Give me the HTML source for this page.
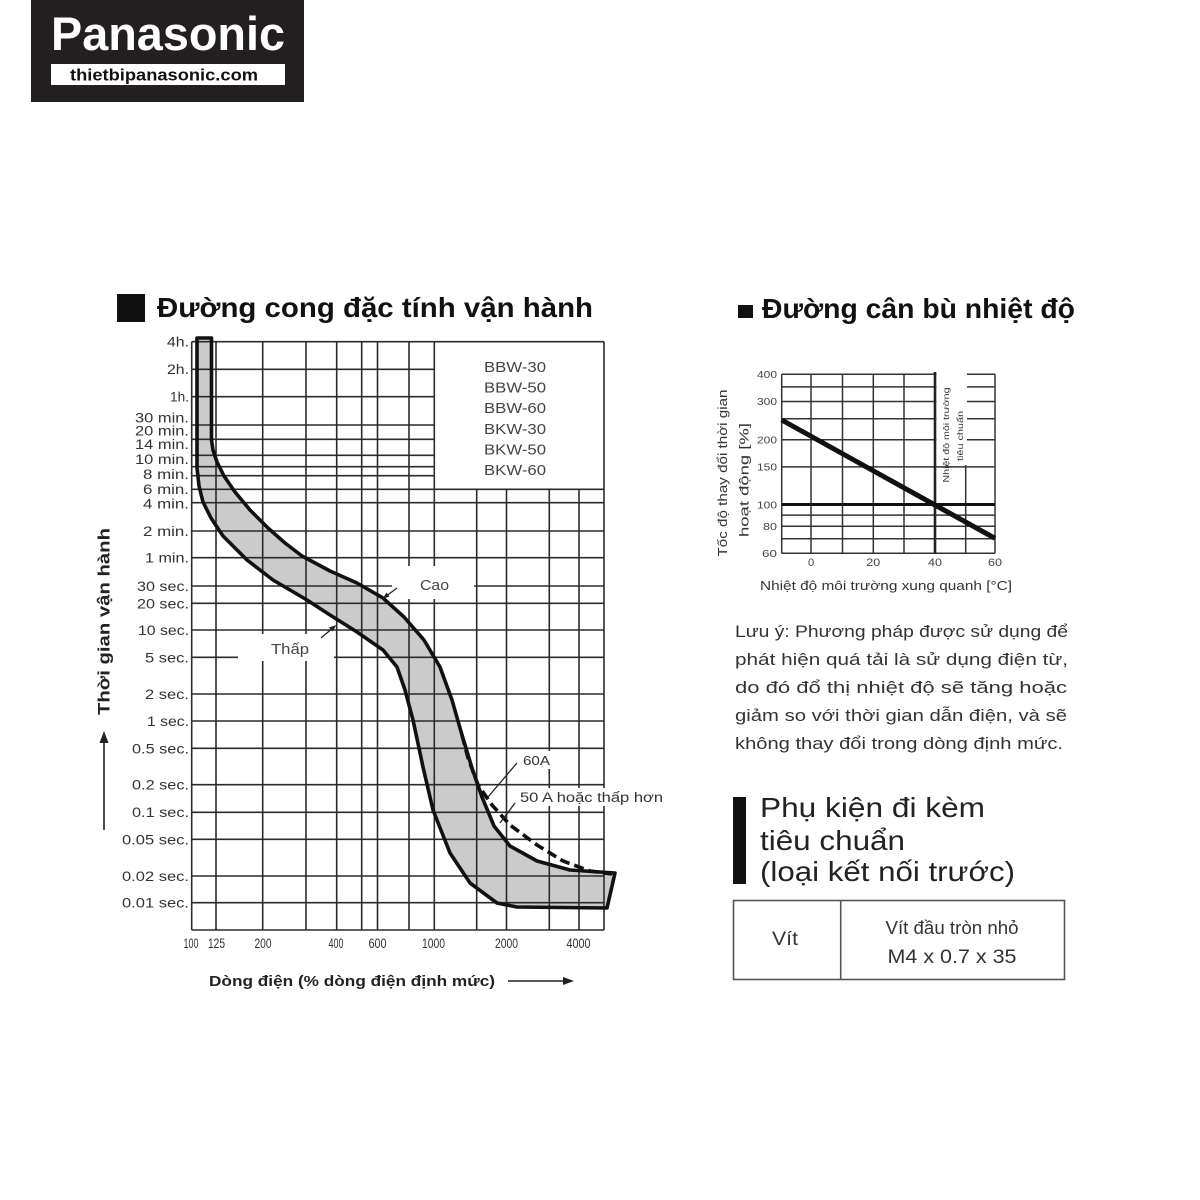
<!DOCTYPE html>
<html>
<head>
<meta charset="utf-8">
<style>
html,body{margin:0;padding:0;background:#fff;}
svg{display:block;}
</style>
</head>
<body>
<svg width="1200" height="1200" viewBox="0 0 1200 1200" xmlns="http://www.w3.org/2000/svg" font-family="'Liberation Sans', sans-serif">
<rect x="0" y="0" width="1200" height="1200" fill="#fff"/>

<!-- Logo -->
<rect x="31" y="0" width="273" height="102" fill="#231f20"/>
<text x="51" y="50" font-size="47" font-weight="bold" fill="#fff" textLength="234" lengthAdjust="spacingAndGlyphs">Panasonic</text>
<rect x="51" y="64" width="234" height="21" fill="#fff"/>
<text x="70" y="80.5" font-size="17" font-weight="bold" fill="#111" textLength="188" lengthAdjust="spacingAndGlyphs">thietbipanasonic.com</text>

<!-- Title 1 -->
<rect x="117" y="294" width="28" height="28" fill="#111"/>
<text x="157" y="317" font-size="28" font-weight="bold" fill="#111" textLength="436" lengthAdjust="spacingAndGlyphs">Đường cong đặc tính vận hành</text>

<!-- Title 2 -->
<rect x="738" y="305" width="15" height="13" fill="#111"/>
<text x="762" y="318" font-size="28" font-weight="bold" fill="#111" textLength="313" lengthAdjust="spacingAndGlyphs">Đường cân bù nhiệt độ</text>

<!-- ========== MAIN CHART ========== -->
<!-- band fill -->
<polygon fill="#cbcbcb" stroke="none" points="
211.5,338 211.5,440 213,450 217,462 224,476 235,492 250,510 268,528 285,543 302,556 330,571 357,583 383,598 404,617 424,640 440,667 452,700 462,735 472,768 482,797 494,826 510,846 537,861 570,870 615,873
607,908 517,907 497,903 470,883 450,853 433,810 423,767 413,720 405,690 397,667 383,650 357,632 330,615 307,600 273,580 247,560 223,536 211,518 203,502 199,486 197,468 197,338"/>

<g stroke="#2b2b2b" stroke-width="1.6" fill="none">
  <!-- horizontal full -->
  <line x1="191.7" y1="341.7" x2="604" y2="341.7"/>
  <line x1="191.7" y1="489.3" x2="604" y2="489.3"/>
  <line x1="191.7" y1="502.7" x2="604" y2="502.7"/>
  <line x1="191.7" y1="531" x2="604" y2="531"/>
  <line x1="191.7" y1="557.7" x2="604" y2="557.7"/>
  <line x1="191.7" y1="586" x2="604" y2="586"/>
  <line x1="191.7" y1="603.3" x2="604" y2="603.3"/>
  <line x1="191.7" y1="630" x2="604" y2="630"/>
  <line x1="191.7" y1="657.3" x2="604" y2="657.3"/>
  <line x1="191.7" y1="694" x2="604" y2="694"/>
  <line x1="191.7" y1="721" x2="604" y2="721"/>
  <line x1="191.7" y1="748.3" x2="604" y2="748.3"/>
  <line x1="191.7" y1="784.7" x2="604" y2="784.7"/>
  <line x1="191.7" y1="812.3" x2="604" y2="812.3"/>
  <line x1="191.7" y1="839.3" x2="604" y2="839.3"/>
  <line x1="191.7" y1="876" x2="604" y2="876"/>
  <line x1="191.7" y1="902.7" x2="604" y2="902.7"/>
  <line x1="191.7" y1="930" x2="604" y2="930"/>
  <!-- horizontal partial (legend box) -->
  <line x1="191.7" y1="369.3" x2="434.3" y2="369.3"/>
  <line x1="191.7" y1="396.7" x2="434.3" y2="396.7"/>
  <line x1="191.7" y1="425" x2="434.3" y2="425"/>
  <line x1="191.7" y1="439.3" x2="434.3" y2="439.3"/>
  <line x1="191.7" y1="455.3" x2="434.3" y2="455.3"/>
  <line x1="191.7" y1="466.7" x2="434.3" y2="466.7"/>
  <line x1="191.7" y1="475.7" x2="434.3" y2="475.7"/>
  <!-- vertical -->
  <line x1="191.7" y1="341.7" x2="191.7" y2="930"/>
  <line x1="216" y1="341.7" x2="216" y2="930"/>
  <line x1="262.7" y1="341.7" x2="262.7" y2="930"/>
  <line x1="306" y1="341.7" x2="306" y2="930"/>
  <line x1="336.7" y1="341.7" x2="336.7" y2="930"/>
  <line x1="361.7" y1="341.7" x2="361.7" y2="930"/>
  <line x1="377.5" y1="341.7" x2="377.5" y2="930"/>
  <line x1="409" y1="341.7" x2="409" y2="930"/>
  <line x1="434.3" y1="341.7" x2="434.3" y2="930"/>
  <line x1="476.7" y1="489.3" x2="476.7" y2="930"/>
  <line x1="506.5" y1="489.3" x2="506.5" y2="930"/>
  <line x1="549.3" y1="489.3" x2="549.3" y2="930"/>
  <line x1="579" y1="489.3" x2="579" y2="930"/>
  <line x1="604" y1="341.7" x2="604" y2="930"/>
</g>

<!-- white label boxes -->
<rect x="238" y="634" width="96" height="27" fill="#fff"/>
<rect x="392" y="566" width="82" height="33" fill="#fff"/>
<rect x="519" y="751" width="34" height="18" fill="#fff"/>
<rect x="517" y="788" width="150" height="18" fill="#fff"/>

<!-- curves outline -->
<polygon fill="none" stroke="#111" stroke-width="3.6" stroke-linejoin="round" points="
211.5,338 211.5,440 213,450 217,462 224,476 235,492 250,510 268,528 285,543 302,556 330,571 357,583 383,598 404,617 424,640 440,667 452,700 462,735 472,768 482,797 494,826 510,846 537,861 570,870 615,873
607,908 517,907 497,903 470,883 450,853 433,810 423,767 413,720 405,690 397,667 383,650 357,632 330,615 307,600 273,580 247,560 223,536 211,518 203,502 199,486 197,468 197,338"/>
<!-- dashed 60A -->
<polyline fill="none" stroke="#111" stroke-width="3.6" stroke-dasharray="10 5" points="462,735 468,758 478,785 492,805 510,825 537,845 563,861 590,871 612,874"/>

<!-- leaders -->
<g stroke="#222" stroke-width="1.3" fill="#222">
  <line x1="321" y1="638" x2="334" y2="627"/>
  <polygon points="336.5,625 329,627.5 332.5,631.5" stroke="none"/>
  <line x1="397" y1="588" x2="385" y2="597"/>
  <polygon points="382.5,599 386.5,592.5 389.5,596.5" stroke="none"/>
  <line x1="517" y1="763" x2="488" y2="797"/>
  <line x1="515" y1="803" x2="500" y2="823"/>
</g>

<text x="271" y="654" font-size="15" fill="#444" textLength="38" lengthAdjust="spacingAndGlyphs">Thấp</text>
<text x="420" y="590" font-size="15" fill="#444" textLength="29" lengthAdjust="spacingAndGlyphs">Cao</text>
<text x="523" y="765" font-size="13" fill="#333" textLength="27" lengthAdjust="spacingAndGlyphs">60A</text>
<text x="520" y="802" font-size="13.5" fill="#333" textLength="143" lengthAdjust="spacingAndGlyphs">50 A hoặc thấp hơn</text>

<!-- legend -->
<g font-size="15" fill="#444">
  <text x="484" y="372" textLength="62" lengthAdjust="spacingAndGlyphs">BBW-30</text>
  <text x="484" y="392.5" textLength="62" lengthAdjust="spacingAndGlyphs">BBW-50</text>
  <text x="484" y="413" textLength="62" lengthAdjust="spacingAndGlyphs">BBW-60</text>
  <text x="484" y="434" textLength="62" lengthAdjust="spacingAndGlyphs">BKW-30</text>
  <text x="484" y="454.5" textLength="62" lengthAdjust="spacingAndGlyphs">BKW-50</text>
  <text x="484" y="475" textLength="62" lengthAdjust="spacingAndGlyphs">BKW-60</text>
</g>

<!-- y tick labels -->
<g font-size="14" fill="#333" text-anchor="end">
  <text x="189" y="346.5" textLength="22" lengthAdjust="spacingAndGlyphs">4h.</text>
  <text x="189" y="374" textLength="22" lengthAdjust="spacingAndGlyphs">2h.</text>
  <text x="189" y="401.5" textLength="19" lengthAdjust="spacingAndGlyphs">1h.</text>
  <text x="189" y="422.5" textLength="54" lengthAdjust="spacingAndGlyphs">30 min.</text>
  <text x="189" y="435.5" textLength="54" lengthAdjust="spacingAndGlyphs">20 min.</text>
  <text x="189" y="449" textLength="54" lengthAdjust="spacingAndGlyphs">14 min.</text>
  <text x="189" y="464" textLength="54" lengthAdjust="spacingAndGlyphs">10 min.</text>
  <text x="189" y="479" textLength="46" lengthAdjust="spacingAndGlyphs">8 min.</text>
  <text x="189" y="494" textLength="46" lengthAdjust="spacingAndGlyphs">6 min.</text>
  <text x="189" y="508.5" textLength="46" lengthAdjust="spacingAndGlyphs">4 min.</text>
  <text x="189" y="536" textLength="46" lengthAdjust="spacingAndGlyphs">2 min.</text>
  <text x="189" y="562.5" textLength="44" lengthAdjust="spacingAndGlyphs">1 min.</text>
  <text x="189" y="591" textLength="52" lengthAdjust="spacingAndGlyphs">30 sec.</text>
  <text x="189" y="608.5" textLength="52" lengthAdjust="spacingAndGlyphs">20 sec.</text>
  <text x="189" y="635" textLength="51" lengthAdjust="spacingAndGlyphs">10 sec.</text>
  <text x="189" y="662.5" textLength="44" lengthAdjust="spacingAndGlyphs">5 sec.</text>
  <text x="189" y="699" textLength="44" lengthAdjust="spacingAndGlyphs">2 sec.</text>
  <text x="189" y="726" textLength="42" lengthAdjust="spacingAndGlyphs">1 sec.</text>
  <text x="189" y="753.5" textLength="57" lengthAdjust="spacingAndGlyphs">0.5 sec.</text>
  <text x="189" y="789.5" textLength="57" lengthAdjust="spacingAndGlyphs">0.2 sec.</text>
  <text x="189" y="817" textLength="57" lengthAdjust="spacingAndGlyphs">0.1 sec.</text>
  <text x="189" y="844.5" textLength="67" lengthAdjust="spacingAndGlyphs">0.05 sec.</text>
  <text x="189" y="881" textLength="67" lengthAdjust="spacingAndGlyphs">0.02 sec.</text>
  <text x="189" y="907.5" textLength="67" lengthAdjust="spacingAndGlyphs">0.01 sec.</text>
</g>

<!-- x tick labels -->
<g font-size="14" fill="#333" text-anchor="middle">
  <text x="191" y="948" textLength="15" lengthAdjust="spacingAndGlyphs">100</text>
  <text x="216.5" y="948" textLength="17" lengthAdjust="spacingAndGlyphs">125</text>
  <text x="263" y="948" textLength="17" lengthAdjust="spacingAndGlyphs">200</text>
  <text x="336" y="948" textLength="15" lengthAdjust="spacingAndGlyphs">400</text>
  <text x="377.5" y="948" textLength="18" lengthAdjust="spacingAndGlyphs">600</text>
  <text x="433.5" y="948" textLength="23" lengthAdjust="spacingAndGlyphs">1000</text>
  <text x="506.5" y="948" textLength="23" lengthAdjust="spacingAndGlyphs">2000</text>
  <text x="578.5" y="948" textLength="24" lengthAdjust="spacingAndGlyphs">4000</text>
</g>

<!-- x title + arrow -->
<text x="209" y="986" font-size="15" font-weight="bold" fill="#222" textLength="286" lengthAdjust="spacingAndGlyphs">Dòng điện (% dòng điện định mức)</text>
<line x1="508" y1="981" x2="565" y2="981" stroke="#222" stroke-width="1.5"/>
<polygon points="574,981 563,977 563,985" fill="#222"/>

<!-- y title + arrow -->
<text transform="translate(109.5,621.5) rotate(-90)" x="0" y="0" font-size="17" font-weight="bold" fill="#222" text-anchor="middle" textLength="187" lengthAdjust="spacingAndGlyphs">Thời gian vận hành</text>
<line x1="104" y1="830" x2="104" y2="741" stroke="#222" stroke-width="1.6"/>
<polygon points="104,731 99.5,743 108.5,743" fill="#222"/>

<!-- ========== RIGHT CHART ========== -->
<g stroke="#333" stroke-width="1.5" fill="none">
  <line x1="781.7" y1="374.3" x2="995" y2="374.3"/>
  <line x1="781.7" y1="386.9" x2="995" y2="386.9"/>
  <line x1="781.7" y1="401.5" x2="995" y2="401.5"/>
  <line x1="781.7" y1="418.7" x2="995" y2="418.7"/>
  <line x1="781.7" y1="439.7" x2="995" y2="439.7"/>
  <line x1="781.7" y1="466.9" x2="995" y2="466.9"/>
  <line x1="781.7" y1="515.1" x2="995" y2="515.1"/>
  <line x1="781.7" y1="526.2" x2="995" y2="526.2"/>
  <line x1="781.7" y1="538.8" x2="995" y2="538.8"/>
  <line x1="781.7" y1="553.3" x2="995" y2="553.3"/>
  <line x1="781.7" y1="374.3" x2="781.7" y2="553.3"/>
  <line x1="811" y1="374.3" x2="811" y2="553.3"/>
  <line x1="842.5" y1="374.3" x2="842.5" y2="553.3"/>
  <line x1="873.3" y1="374.3" x2="873.3" y2="553.3"/>
  <line x1="904" y1="374.3" x2="904" y2="553.3"/>
  <line x1="965.7" y1="374.3" x2="965.7" y2="553.3"/>
  <line x1="995" y1="374.3" x2="995" y2="553.3"/>
</g>
<rect x="936.5" y="372" width="30.5" height="93" fill="#fff"/>
<line x1="935" y1="372" x2="935" y2="554" stroke="#222" stroke-width="2.6"/>
<line x1="781.7" y1="504.5" x2="995" y2="504.5" stroke="#111" stroke-width="3"/>
<line x1="781.7" y1="420" x2="995" y2="538.3" stroke="#111" stroke-width="5" stroke-linecap="butt"/>

<text transform="translate(949,435) rotate(-90)" font-size="8" fill="#333" text-anchor="middle" textLength="95" lengthAdjust="spacingAndGlyphs">Nhiệt độ môi trường</text>
<text transform="translate(963,436) rotate(-90)" font-size="8" fill="#333" text-anchor="middle" textLength="50" lengthAdjust="spacingAndGlyphs">tiêu chuẩn</text>

<g font-size="10.5" fill="#444" text-anchor="end">
  <text x="777" y="378" textLength="20" lengthAdjust="spacingAndGlyphs">400</text>
  <text x="777" y="405" textLength="20" lengthAdjust="spacingAndGlyphs">300</text>
  <text x="777" y="443.5" textLength="20" lengthAdjust="spacingAndGlyphs">200</text>
  <text x="777" y="470.5" textLength="20" lengthAdjust="spacingAndGlyphs">150</text>
  <text x="777" y="508.5" textLength="20" lengthAdjust="spacingAndGlyphs">100</text>
  <text x="777" y="530" textLength="14" lengthAdjust="spacingAndGlyphs">80</text>
  <text x="777" y="557" textLength="15" lengthAdjust="spacingAndGlyphs">60</text>
</g>
<g font-size="11" fill="#444" text-anchor="middle">
  <text x="811" y="566">0</text>
  <text x="873.3" y="566" textLength="14" lengthAdjust="spacingAndGlyphs">20</text>
  <text x="935" y="566" textLength="14" lengthAdjust="spacingAndGlyphs">40</text>
  <text x="995" y="566" textLength="14" lengthAdjust="spacingAndGlyphs">60</text>
</g>
<text x="760" y="590" font-size="13" fill="#333" textLength="252" lengthAdjust="spacingAndGlyphs">Nhiệt độ môi trường xung quanh [°C]</text>
<text transform="translate(727,473) rotate(-90)" font-size="12.5" fill="#333" text-anchor="middle" textLength="167" lengthAdjust="spacingAndGlyphs">Tốc độ thay đổi thời gian</text>
<text transform="translate(748.5,480) rotate(-90)" font-size="12.5" fill="#333" text-anchor="middle" textLength="114" lengthAdjust="spacingAndGlyphs">hoạt động [%]</text>

<!-- Note paragraph -->
<g font-size="17" fill="#333">
  <text x="735" y="637" textLength="333" lengthAdjust="spacingAndGlyphs">Lưu ý: Phương pháp được sử dụng để</text>
  <text x="735" y="665" textLength="333" lengthAdjust="spacingAndGlyphs">phát hiện quá tải là sử dụng điện từ,</text>
  <text x="735" y="693" textLength="332" lengthAdjust="spacingAndGlyphs">do đó đổ thị nhiệt độ sẽ tăng hoặc</text>
  <text x="735" y="721" textLength="332" lengthAdjust="spacingAndGlyphs">giảm so với thời gian dẫn điện, và sẽ</text>
  <text x="735" y="749" textLength="328" lengthAdjust="spacingAndGlyphs">không thay đổi trong dòng định mức.</text>
</g>

<!-- Phụ kiện -->
<rect x="733" y="797" width="13" height="87" fill="#111"/>
<g font-size="28" fill="#222">
  <text x="760" y="817" textLength="225" lengthAdjust="spacingAndGlyphs">Phụ kiện đi kèm</text>
  <text x="760" y="850" textLength="145" lengthAdjust="spacingAndGlyphs">tiêu chuẩn</text>
  <text x="760" y="881" textLength="255" lengthAdjust="spacingAndGlyphs">(loại kết nối trước)</text>
</g>

<!-- table -->
<rect x="733.5" y="900.5" width="331" height="79" fill="none" stroke="#555" stroke-width="1.6"/>
<line x1="840.7" y1="900.5" x2="840.7" y2="979.5" stroke="#555" stroke-width="1.6"/>
<text x="785" y="945" font-size="19" fill="#333" text-anchor="middle" textLength="26" lengthAdjust="spacingAndGlyphs">Vít</text>
<text x="952" y="934" font-size="18" fill="#333" text-anchor="middle" textLength="133" lengthAdjust="spacingAndGlyphs">Vít đầu tròn nhỏ</text>
<text x="952" y="963" font-size="19" fill="#333" text-anchor="middle" textLength="129" lengthAdjust="spacingAndGlyphs">M4 x 0.7 x 35</text>

</svg>
</body>
</html>
